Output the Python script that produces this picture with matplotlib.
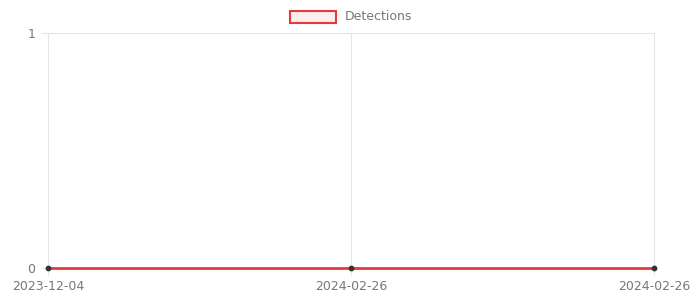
import matplotlib
matplotlib.use("Agg")
import matplotlib.pyplot as plt
from matplotlib.patches import Rectangle

labels = ["2023-12-04", "2024-02-26", "2024-02-26"]
detections = [0, 0, 0]

fig = plt.figure(figsize=(6.93, 2.93), dpi=100)
ax = fig.add_axes([48/693, 25/293, (654-48)/693, (268-33)/293])
x = list(range(len(labels)))
ax.plot(x, detections, color="#e8383d", linewidth=2, zorder=3, clip_on=False)
ax.scatter(x, detections, s=10, color="#333333", zorder=4, clip_on=False)
ax.set_xlim(0, len(labels)-1)
ax.set_ylim(0, 1)
ax.set_xticks(x)
ax.set_xticklabels(labels)
ax.set_yticks([0, 1])
ax.set_yticklabels(["0", "1"])
ax.grid(True, color="#e6e6e6", linewidth=0.8)
for gl in ax.get_xgridlines() + ax.get_ygridlines():
    gl.set_clip_on(False)
for s in ax.spines.values():
    s.set_visible(False)
ax.tick_params(axis="both", colors="#e6e6e6", labelcolor="#777777", labelsize=9, length=5, width=0.8)
ax.tick_params(axis="x", pad=4)
ax.tick_params(axis="y", pad=4)

# legend
fig.patches.append(Rectangle((290/693, 1-23/293), 46/693, 12/293, transform=fig.transFigure,
                             facecolor="#fdeeee", edgecolor="#e8383d", linewidth=1.5))
fig.text(345/693, 1-17/293, "Detections", color="#777777", fontsize=9, va="center", ha="left")

fig.savefig("out.png", dpi=100)
